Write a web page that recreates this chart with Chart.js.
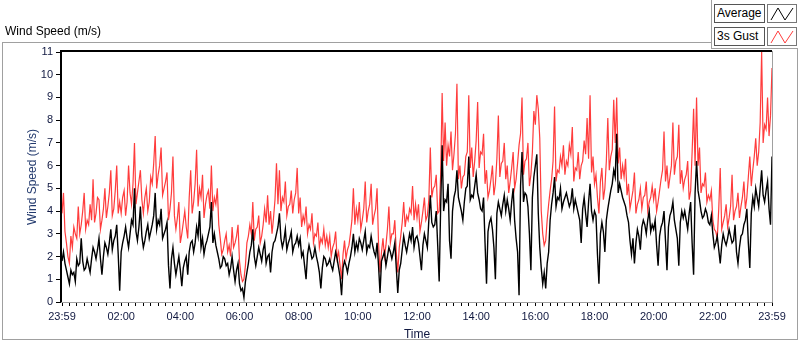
<!DOCTYPE html>
<html>
<head>
<meta charset="utf-8">
<script src="https://cdn.jsdelivr.net/npm/chart.js@4.4.1/dist/chart.umd.min.js"></script>
<style>
  body { margin: 0; background: #fff; font-family: "Liberation Sans", Arial, sans-serif; }
  #wrap { position: relative; width: 800px; height: 342px; overflow: hidden; }
  #chart { position: absolute; left: 0; top: 0; }
  #frame { position: absolute; left: 2px; top: 42px; width: 794px; height: 296px; border: 1px solid #a0a0a0; pointer-events: none; }
  #caption { position: absolute; left: 5px; top: 24px; font-size: 12px; color: #000; }
  #legendPanel { position: absolute; left: 711px; top: 0; width: 86px; height: 48px; background: #fff;
    border-left: 1px solid #a0a0a0; border-bottom: 1px solid #a0a0a0; }
  .lbl { position: absolute; left: 2px; width: 47px; height: 17px; border: 1px solid #555; background: #fff;
    font-size: 12px; line-height: 17px; padding-left: 2px; box-sizing: content-box; }
  .ico { position: absolute; left: 55px; width: 28px; height: 17px; border: 1px solid #777; background: #fff; }
</style>
</head>
<body>
<div id="wrap">
  <canvas id="chart" width="800" height="342"></canvas>
  <div id="frame"></div>
  <div id="caption">Wind Speed (m/s)</div>
  <div id="legendPanel">
    <div class="lbl" style="top:4px">Average</div>
    <div class="ico" style="top:4px"><svg width="28" height="17"><polyline points="3,15 10,3 17,15 25,3" fill="none" stroke="#000" stroke-width="1"/></svg></div>
    <div class="lbl" style="top:27px">3s Gust</div>
    <div class="ico" style="top:27px"><svg width="28" height="17"><polyline points="3,15 10,3 17,15 25,3" fill="none" stroke="#ff3c3c" stroke-width="1"/></svg></div>
  </div>
</div>
<script>
// one sample every 3 minutes, 23:59 -> 23:59 (20 per hour)
const stepMinutes = 3

const gust = [
  3.9, 4.8, 3.1, 2.6, 2.0, 1.7, 2.9, 2.4, 3.3, 3.0, 2.8, 4.2, 3.0, 3.4, 4.0, 4.8, 3.2, 3.6, 3.4, 4.3,
  3.6, 5.4, 3.5, 3.9, 4.6, 4.5, 3.2, 3.6, 4.1, 5.0, 3.7, 4.2, 4.8, 5.8, 3.8, 4.1, 4.9, 6.0, 3.9, 4.4,
  3.9, 4.6, 4.9, 3.8, 4.4, 6.0, 4.8, 4.3, 5.2, 7.0, 4.3, 4.8, 5.3, 5.8, 4.5, 3.9, 4.6, 5.0, 4.0, 4.4,
  5.5, 5.2, 6.1, 7.3, 5.0, 5.6, 6.0, 6.8, 4.7, 5.0, 5.3, 5.7, 3.6, 4.1, 4.8, 6.4, 3.8, 3.2, 3.7, 4.4,
  2.6, 3.0, 3.5, 4.0, 3.3, 2.8, 4.6, 5.8, 3.9, 4.4, 5.2, 6.7, 4.2, 5.0, 4.6, 5.6, 3.7, 4.3, 4.7, 4.9,
  4.1, 6.0, 4.0, 4.6, 4.3, 5.0, 3.4, 2.8, 2.1, 2.3, 2.7, 3.0, 2.2, 2.5, 2.0, 3.3, 2.4, 2.6, 2.9, 3.4,
  1.8, 1.2, 0.9, 1.0, 1.6, 2.6, 2.9, 3.4, 3.0, 4.4, 2.7, 3.2, 3.3, 3.8, 2.6, 2.9, 3.4, 4.1, 3.5, 4.7,
  3.4, 4.0, 3.0, 3.7, 4.5, 6.1, 4.3, 5.8, 4.0, 4.6, 4.4, 5.3, 3.8, 4.2, 4.3, 4.9, 3.9, 4.5, 4.8, 5.9,
  3.9, 4.6, 3.3, 3.8, 3.5, 4.2, 3.0, 3.4, 3.2, 3.9, 2.6, 3.0, 2.9, 3.5, 2.4, 2.8, 2.6, 3.2, 2.5, 2.9,
  2.4, 2.9, 2.0, 2.4, 2.6, 3.1, 1.9, 2.2, 1.6, 1.0, 2.1, 2.7, 1.9, 2.3, 2.5, 3.0, 3.6, 5.0, 3.4, 4.1,
  3.6, 4.4, 3.2, 3.6, 4.1, 5.3, 3.5, 4.0, 4.3, 5.2, 3.4, 3.8, 4.1, 5.0, 2.6, 1.3, 2.2, 2.8, 2.0, 2.5,
  3.2, 4.2, 2.6, 3.0, 3.0, 3.6, 2.2, 1.3, 2.4, 2.9, 3.5, 4.4, 3.3, 3.8, 3.6, 4.1, 3.9, 5.1, 3.6, 4.3,
  3.7, 4.3, 3.1, 3.5, 4.0, 4.6, 3.6, 3.8, 4.5, 6.8, 4.6, 5.0, 5.1, 5.6, 3.9, 4.0, 5.6, 9.2, 6.2, 7.9,
  6.0, 6.9, 6.4, 7.5, 5.8, 6.5, 7.4, 9.6, 5.4, 6.0, 5.0, 5.5, 5.6, 6.4, 6.6, 9.1, 5.9, 6.8, 5.5, 6.2,
  7.1, 8.8, 5.9, 6.6, 6.5, 7.4, 5.2, 5.8, 4.6, 4.9, 5.4, 6.0, 4.7, 5.2, 6.3, 8.2, 5.5, 6.1, 6.2, 7.0,
  5.4, 6.0, 4.8, 5.3, 5.9, 6.6, 5.0, 5.4, 6.1, 6.9, 7.4, 9.0, 5.6, 6.2, 6.3, 7.0, 5.1, 5.6, 6.6, 8.4,
  7.8, 9.1, 8.5, 7.2, 4.0, 3.0, 2.5, 2.7, 3.6, 4.3, 4.9, 5.4, 6.2, 8.6, 5.3, 5.8, 5.7, 6.4, 6.0, 6.9,
  5.6, 6.2, 6.0, 6.9, 6.5, 7.7, 5.3, 5.9, 5.8, 6.6, 5.4, 6.0, 6.2, 7.1, 6.5, 8.1, 6.3, 9.1, 5.7, 6.4,
  5.2, 5.6, 4.6, 3.9, 5.3, 5.9, 4.5, 5.0, 6.2, 8.1, 5.8, 6.4, 6.7, 8.9, 7.0, 9.0, 6.1, 6.8, 5.4, 6.0,
  5.5, 6.3, 4.7, 5.2, 4.1, 4.5, 4.9, 5.7, 3.9, 4.3, 4.5, 5.0, 4.1, 4.6, 4.7, 5.3, 4.0, 4.4, 4.6, 5.1,
  4.5, 5.0, 4.0, 4.4, 4.9, 5.4, 5.8, 7.5, 5.3, 6.0, 5.0, 5.5, 6.0, 7.9, 5.6, 6.2, 6.4, 7.8, 5.2, 5.8,
  5.0, 5.4, 5.6, 6.2, 4.5, 4.9, 6.6, 8.5, 6.0, 9.0, 6.0, 6.8, 4.8, 5.2, 5.1, 5.7, 4.4, 4.7, 4.5, 4.9,
  3.6, 3.2, 3.1, 2.8, 4.1, 5.9, 3.2, 3.5, 3.8, 4.3, 3.3, 3.7, 4.2, 5.6, 3.6, 4.0, 4.2, 4.8, 3.7, 4.2,
  4.6, 5.3, 4.1, 4.6, 5.5, 6.4, 5.1, 5.8, 6.4, 7.2, 6.0, 6.6, 7.9, 11.0, 7.0, 7.8, 7.6, 9.0, 7.3, 8.2, 10.3
]

const average = [
  1.8, 2.2, 1.7, 1.4, 1.1, 0.8, 1.4, 1.2, 1.3, 0.9, 1.9, 1.6, 1.7, 2.8, 1.8, 1.4, 1.5, 1.9, 1.6, 1.3,
  1.9, 2.4, 2.2, 1.9, 2.3, 2.8, 1.9, 1.2, 2.0, 2.6, 2.4, 2.1, 2.6, 3.2, 2.3, 2.7, 2.9, 3.4, 2.1, 0.5,
  2.2, 2.6, 2.9, 3.3, 2.8, 2.4, 3.0, 3.6, 3.4, 5.0, 3.1, 2.7, 3.3, 4.2, 2.9, 2.4, 2.7, 3.1, 3.4, 2.8,
  3.1, 3.4, 3.8, 4.8, 3.2, 3.6, 3.4, 4.1, 2.8, 3.0, 3.2, 3.5, 1.6, 0.6, 1.9, 2.4, 1.7, 1.2, 1.6, 2.0,
  1.4, 0.7, 1.5, 1.8, 2.0, 1.2, 2.2, 2.6, 2.7, 2.2, 2.6, 3.3, 2.9, 4.0, 2.4, 2.8, 2.1, 2.5, 2.7, 3.0,
  3.3, 4.4, 2.6, 3.0, 2.5, 2.2, 1.9, 1.5, 1.6, 2.0, 1.9, 1.6, 1.7, 1.2, 1.5, 2.0, 1.4, 0.9, 1.4, 1.7,
  0.8, 0.5, 0.6, 0.2, 0.9, 1.3, 1.7, 2.2, 2.5, 3.2, 2.0, 1.6, 2.0, 2.4, 2.1, 1.8, 2.3, 2.6, 1.7, 2.0,
  2.1, 1.3, 2.2, 2.6, 2.7, 3.0, 3.3, 3.9, 2.8, 2.4, 2.7, 3.2, 2.3, 2.6, 2.8, 3.1, 2.2, 2.5, 2.6, 2.9,
  2.5, 2.8, 2.0, 2.2, 1.6, 1.0, 2.1, 2.5, 2.2, 1.9, 2.0, 2.4, 2.0, 1.7, 1.3, 0.6, 1.5, 2.0, 1.9, 1.6,
  1.7, 1.9, 1.6, 1.4, 1.8, 2.2, 1.9, 1.5, 1.1, 0.3, 1.5, 1.8, 1.6, 1.3, 1.7, 2.0, 2.4, 3.0, 2.2, 2.6,
  2.3, 2.8, 2.6, 2.3, 2.7, 3.1, 2.2, 2.5, 2.4, 2.9, 2.5, 2.2, 2.0, 2.6, 1.6, 0.4, 1.8, 2.0, 2.2, 1.6,
  2.0, 2.4, 2.2, 1.9, 2.2, 2.6, 1.5, 0.4, 1.4, 1.7, 2.3, 2.9, 2.5, 2.2, 2.6, 3.0, 2.7, 3.3, 2.4, 2.8,
  2.9, 2.6, 2.0, 1.4, 2.5, 3.0, 2.7, 2.4, 3.6, 4.7, 3.5, 3.3, 3.4, 4.0, 2.5, 0.9, 4.2, 6.9, 4.0, 4.5,
  4.4, 5.2, 2.7, 1.9, 4.0, 4.6, 4.9, 5.8, 4.6, 4.3, 4.0, 3.6, 4.4, 5.0, 5.1, 6.4, 4.5, 4.7, 4.6, 5.1,
  5.6, 4.8, 4.5, 4.1, 4.0, 4.6, 2.6, 0.8, 3.1, 3.5, 3.7, 3.2, 2.4, 1.0, 3.9, 4.4, 4.1, 3.8, 4.3, 4.7,
  4.0, 4.5, 4.1, 3.6, 4.4, 5.0, 3.6, 2.8, 2.2, 0.3, 5.1, 6.6, 4.4, 4.8, 4.7, 4.2, 3.0, 1.4, 4.6, 5.5,
  6.0, 6.5, 3.9, 2.4, 1.5, 0.8, 1.3, 0.6, 1.7, 2.2, 3.6, 4.3, 4.8, 5.5, 4.2, 4.6, 4.5, 5.0, 4.1, 4.4,
  4.6, 4.8, 4.5, 4.2, 4.4, 5.0, 4.1, 4.5, 4.2, 3.9, 3.6, 2.6, 4.1, 4.6, 3.9, 3.3, 4.4, 5.2, 4.0, 3.6,
  4.0, 3.8, 2.1, 0.8, 3.0, 3.5, 3.1, 2.2, 3.6, 4.1, 4.5, 4.9, 5.2, 5.8, 5.5, 7.4, 4.8, 5.2, 4.9, 4.6,
  4.4, 4.2, 3.8, 3.5, 2.7, 2.1, 2.8, 1.7, 2.6, 3.2, 2.9, 2.3, 3.3, 3.6, 3.4, 3.0, 3.6, 4.0, 3.1, 3.4,
  3.2, 3.6, 2.5, 1.6, 2.9, 3.3, 3.5, 4.0, 2.7, 1.4, 3.3, 3.8, 4.0, 4.4, 3.6, 3.2, 2.8, 1.6, 3.5, 4.0,
  3.7, 4.0, 3.6, 3.2, 3.9, 4.4, 2.6, 1.2, 4.8, 6.2, 4.9, 4.5, 4.0, 3.7, 3.8, 4.1, 3.9, 3.5, 3.4, 3.8,
  3.0, 2.4, 2.6, 2.9, 2.3, 1.7, 2.5, 3.0, 2.7, 2.5, 2.8, 3.2, 2.9, 2.6, 2.7, 3.4, 2.2, 1.7, 2.4, 2.9,
  3.0, 3.4, 3.6, 4.1, 2.6, 1.5, 3.9, 4.6, 4.2, 5.0, 4.6, 4.2, 5.0, 5.8, 4.7, 4.4, 4.9, 5.3, 4.1, 3.4, 6.4
]

const tickMinutes = [0, 120, 240, 360, 480, 600, 720, 840, 960, 1080, 1200, 1320, 1440]
const tickLabels = ['23:59', '02:00', '04:00', '06:00', '08:00', '10:00', '12:00',
  '14:00', '16:00', '18:00', '20:00', '22:00', '23:59']

const toPoints = arr => arr.map((v, i) => ({x: i * stepMinutes, y: v}))

// sunken plot box: black top/left, grey right/bottom
const plotFrame = {
  id: 'plotFrame',
  afterDraw(chart) {
    const {ctx, chartArea: a} = chart
    ctx.save()
    ctx.strokeStyle = '#a0a0a0'
    ctx.lineWidth = 1
    ctx.beginPath()
    ctx.moveTo(a.right + 0.5, a.top - 1)
    ctx.lineTo(a.right + 0.5, a.bottom + 0.5)
    ctx.lineTo(a.left - 1, a.bottom + 0.5)
    ctx.stroke()
    ctx.strokeStyle = '#000'
    ctx.lineWidth = 2
    ctx.beginPath()
    ctx.moveTo(a.left - 1, a.bottom)
    ctx.lineTo(a.left - 1, a.top - 1)
    ctx.lineTo(a.right, a.top - 1)
    ctx.stroke()
    ctx.restore()
  }
}

const ctxWind = document.getElementById('chart')
if(ctxWind) {
  const wind = {
    type: 'line',
    data: {
      datasets: [
        {
          label: 'Average',
          borderColor: '#000000',
          borderWidth: 1.4,
          pointRadius: 0,
          data: toPoints(average),
        },
        {
          label: '3s Gust',
          borderColor: '#ff3c3c',
          borderWidth: 1.2,
          pointRadius: 0,
          data: toPoints(gust),
        },
      ],
    },
    options: {
      responsive: false,
      animation: false,
      devicePixelRatio: 1,
      layout: { padding: { left: 25, right: 28, top: 52, bottom: 0 } },
      plugins: {
        legend: { display: false },
        tooltip: { enabled: false },
      },
      scales: {
        x: {
          type: 'linear',
          min: 0,
          max: 1440,
          afterBuildTicks: scale => {
            const t = []
            for (let m = 0; m <= 1440; m += 15) t.push({value: m})
            scale.ticks = t
          },
          afterFit: scale => { scale.height = 40 },
          grid: { drawOnChartArea: false, drawTicks: true, tickLength: 4, color: '#000' },
          border: { display: false },
          ticks: {
            autoSkip: false,
            maxRotation: 0,
            padding: 4,
            color: '#101840',
            font: { family: 'Liberation Sans', size: 11 },
            callback: value => {
              const k = tickMinutes.indexOf(value)
              return k >= 0 ? tickLabels[k] : ''
            },
          },
          title: {
            display: true,
            text: 'Time',
            color: '#101840',
            padding: 0,
            font: { family: 'Liberation Sans', size: 12 },
          },
        },
        y: {
          min: 0,
          max: 11,
          afterFit: scale => { scale.width = 37 },
          grid: { drawOnChartArea: false, drawTicks: true, tickLength: 6, color: '#000' },
          border: { display: false },
          ticks: {
            stepSize: 1,
            padding: 3,
            color: '#101840',
            font: { family: 'Liberation Sans', size: 11 },
          },
          title: {
            display: true,
            text: 'Wind Speed (m/s)',
            color: '#233a6e',
            padding: 0,
            font: { family: 'Liberation Sans', size: 12 },
          },
        },
      },
    },
    plugins: [plotFrame],
  }

  window.myWind = new Chart(ctxWind, wind)
}
</script>
</body>
</html>
